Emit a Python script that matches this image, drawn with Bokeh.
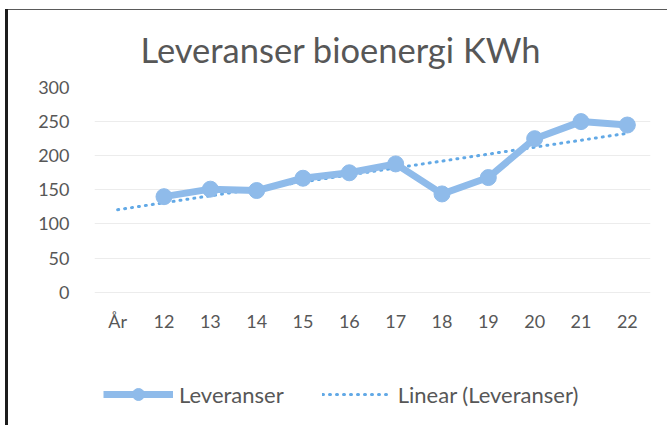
import numpy as np
from bokeh.plotting import figure
from bokeh.models import FactorRange, Range1d, Legend, LegendItem, FixedTicker
from bokeh.embed import file_html
from bokeh.resources import INLINE

categories = ["År", "12", "13", "14", "15", "16", "17", "18", "19", "20", "21", "22"]
years = ["12", "13", "14", "15", "16", "17", "18", "19", "20", "21", "22"]
leveranser = [140, 151, 149, 167, 175, 188, 144, 168, 225, 250, 245]
y_ticks = [0, 50, 100, 150, 200, 250, 300]

# Linear trend (Excel trendline) over category positions, År = 1
xi = np.arange(2, 2 + len(leveranser))
slope, intercept = np.polyfit(xi, leveranser, 1)
trend_x = [categories[0], categories[-1]]
trend_y = [intercept + slope * 1, intercept + slope * len(categories)]

FONT = "Lato"
TXT = "#575757"
LINE_C = "#8fbbea"
TREND_C = "#62a9e6"

# frame runs to the bottom of the page so the legend can sit inside it;
# the value axis still shows 0..300 over the upper part
p = figure(width=667, height=425, x_range=FactorRange(*categories, range_padding=0),
           y_range=Range1d(-195.4, 300), output_backend="svg", toolbar_location=None,
           min_border_left=94, min_border_right=17, min_border_top=87, min_border_bottom=0)
p.border_fill_color = None
p.background_fill_color = None
p.outline_line_color = None
p.styles = {"box-shadow": "inset 5px 0 0 0 #ffffff, inset 0 9px 0 0 #ffffff, "
                          "inset 8px 0 0 0 #1c1c1c, inset 0 10px 0 0 #5a5a5a"}

p.title.text = "Leveranser bioenergi KWh"
p.title.text_font = FONT
p.title.text_font_size = "34.5px"
p.title.text_font_style = "normal"
p.title.text_color = TXT
p.title.align = "left"
p.title.offset = 46
p.title.standoff = 35

p.yaxis.ticker = FixedTicker(ticks=y_ticks)
p.xaxis.fixed_location = 0
for ax in (p.xaxis[0], p.yaxis[0]):
    ax.axis_line_color = None
    ax.major_tick_line_color = None
    ax.minor_tick_line_color = None
    ax.major_tick_out = 0
    ax.major_tick_in = 0
    ax.major_label_text_font = FONT
    ax.major_label_text_font_size = "18px"
    ax.major_label_text_color = TXT
p.yaxis.major_label_standoff = 25
p.xaxis.major_label_standoff = 18

p.xgrid.grid_line_color = None
p.ygrid.grid_line_color = "#ececec"
p.ygrid.grid_line_width = 1

trend = p.line(trend_x, trend_y, line_color=TREND_C, line_width=3, line_dash="1 6",
               line_cap="round")
ln = p.line(years, leveranser, line_color=LINE_C, line_width=7, line_join="round")
mk = p.scatter(years, leveranser, size=16, fill_color=LINE_C, line_color=LINE_C)

legend = Legend(items=[LegendItem(label="Leveranser", renderers=[ln, mk]),
                       LegendItem(label="Linear (Leveranser)", renderers=[trend])],
                orientation="horizontal", location=(9, 16),
                glyph_width=70, glyph_height=30, label_height=30, label_standoff=6,
                spacing=38, padding=0, margin=0,
                label_text_font=FONT, label_text_font_size="22px", label_text_color=TXT,
                border_line_color=None, background_fill_color=None)
p.add_layout(legend, "center")

open("out.html", "w").write(file_html(p, INLINE))
